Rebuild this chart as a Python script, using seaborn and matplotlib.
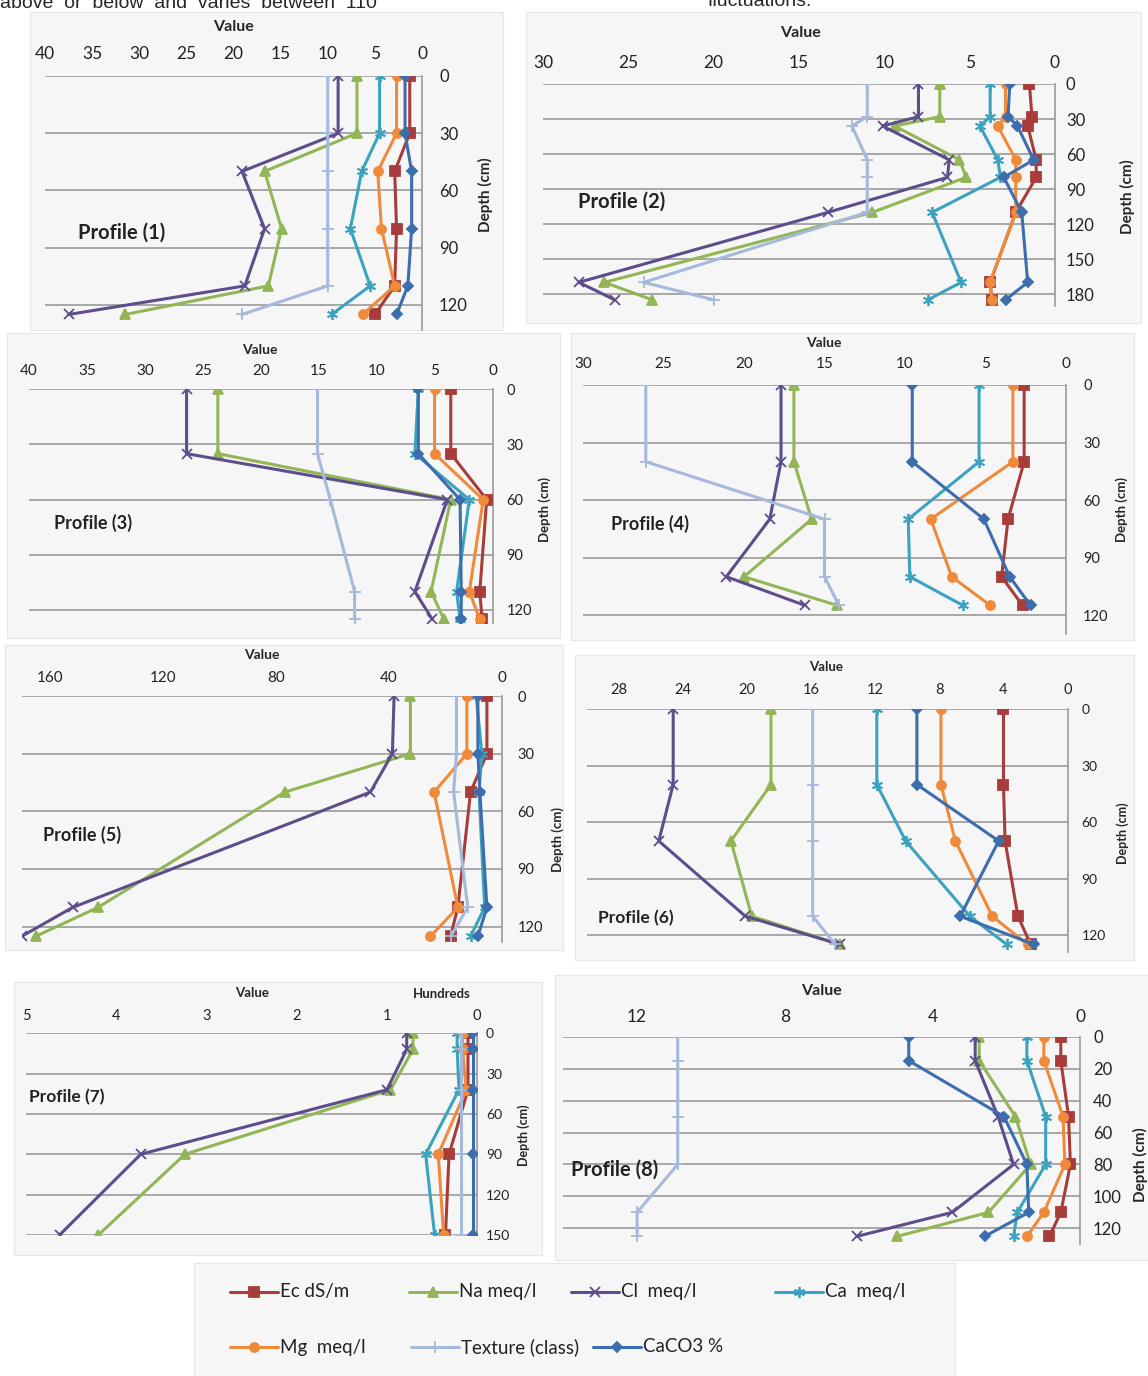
import numpy as np
import matplotlib
matplotlib.use("Agg")
import matplotlib.pyplot as plt
import seaborn as sns
from matplotlib.patches import Rectangle
from matplotlib.lines import Line2D
from matplotlib.ticker import FuncFormatter

# ---- data (value vs depth, one list per parameter) ----
p1_depth = [0, 30, 50, 80, 110, 125]
p1_ec = [1.3, 1.3, 2.9, 2.7, 2.9, 5.0]
p1_na = [6.9, 6.9, 16.7, 14.9, 16.3, 31.5]
p1_cl = [8.9, 8.9, 19.1, 16.7, 18.8, 37.5]
p1_ca = [4.5, 4.5, 6.4, 7.6, 5.5, 9.6]
p1_mg = [2.7, 2.7, 4.7, 4.3, 2.9, 6.3]
p1_tex = [10, 10, 10, 10, 10, 19.1]
p1_caco3 = [1.8, 1.8, 1.1, 1.1, 1.5, 2.7]

p2_depth = [0, 28, 36, 65, 80, 110, 170, 185]
p2_ec = [1.5, 1.35, 1.6, 1.1, 1.1, 2.3, 3.8, 3.7]
p2_na = [6.75, 6.75, 9.4, 5.6, 5.2, 10.7, 26.4, 23.6]
p2_cl = [8.0, 8.0, 10.1, 6.2, 6.3, 13.3, 27.9, 25.8]
p2_ca = [3.8, 3.8, 4.4, 3.35, 3.2, 7.2, 5.5, 7.45]
p2_mg = [2.9, 2.9, 3.35, 2.3, 2.3, 2.3, 3.8, 3.7]
p2_tex = [11.0, 11.0, 11.9, 11.0, 11.0, 11.0, 24.1, 20.0]
p2_caco3 = [2.65, 2.75, 2.2, 1.25, 3.0, 1.95, 1.6, 2.9]

p3_depth = [0, 35, 60, 110, 125]
p3_ec = [3.6, 3.6, 0.5, 1.1, 0.9]
p3_na = [23.7, 23.7, 3.6, 5.3, 4.2]
p3_cl = [26.4, 26.4, 3.9, 6.7, 5.2]
p3_ca = [6.4, 6.7, 2.0, 3.1, 2.8]
p3_mg = [5.0, 5.0, 0.8, 2.0, 1.1]
p3_tex = [15.1, 15.1, 14.0, 11.9, 11.9]
p3_caco3 = [6.4, 6.4, 2.8, 2.7, 2.7]

p4_depth = [0, 40, 70, 100, 115]
p4_ec = [2.6, 2.6, 3.6, 4.0, 2.7]
p4_na = [16.9, 16.9, 15.8, 20.0, 14.2]
p4_cl = [17.7, 17.7, 18.4, 21.1, 16.2]
p4_ca = [5.4, 5.4, 9.8, 9.7, 6.4]
p4_mg = [3.3, 3.3, 8.4, 7.1, 4.7]
p4_tex = [26.1, 26.1, 15.0, 15.0, 14.1]
p4_caco3 = [9.55, 9.55, 5.1, 3.5, 2.2]

p5_depth = [0, 30, 50, 110, 125]
p5_ec = [5.2, 5.2, 11.0, 15.5, 18.1]
p5_na = [32.3, 32.3, 76.8, 143.0, 165.0]
p5_cl = [38.1, 38.7, 46.5, 152.0, 170.0]
p5_ca = [9.0, 7.0, 8.0, 6.0, 11.0]
p5_mg = [12.3, 12.3, 23.9, 15.5, 25.2]
p5_tex = [16.0, 16.0, 17.0, 12.0, 18.0]
p5_caco3 = [8.4, 8.4, 7.7, 5.2, 8.4]

p6_depth = [0, 40, 70, 110, 125]
p6_ec = [4.0, 4.0, 3.9, 3.1, 2.3]
p6_na = [18.5, 18.5, 21.0, 19.7, 14.2]
p6_cl = [24.6, 24.6, 25.5, 20.1, 14.2]
p6_ca = [11.9, 11.9, 10.1, 6.1, 3.8]
p6_mg = [7.9, 7.9, 7.0, 4.7, 2.5]
p6_tex = [15.9, 15.9, 15.9, 15.9, 14.5]
p6_caco3 = [9.4, 9.4, 4.3, 6.7, 2.1]

p7_depth = [0, 12, 42, 90, 150]
p7_ec = [10, 10, 10, 31, 35]
p7_na = [71, 71, 96, 324, 420]
p7_cl = [78, 78, 100, 373, 463]
p7_ca = [22, 22, 20, 57, 47]
p7_mg = [16, 16, 12, 43, 37]
p7_tex = [18, 18, 18, 18, 18]
p7_caco3 = [4, 4, 4, 4, 4]

p8_depth = [0, 15, 50, 80, 110, 125]
p8_ec = [0.52, 0.52, 0.31, 0.26, 0.52, 0.83]
p8_na = [2.73, 2.73, 1.75, 1.34, 2.48, 4.95]
p8_cl = [2.84, 2.84, 2.22, 1.8, 3.46, 6.04]
p8_ca = [1.44, 1.44, 0.93, 0.93, 1.7, 1.8]
p8_mg = [0.98, 0.98, 0.46, 0.41, 0.98, 1.44]
p8_tex = [10.9, 10.9, 10.9, 10.9, 12.0, 12.0]
p8_caco3 = [4.64, 4.64, 2.06, 1.44, 1.39, 2.58]

labels = ["Ec dS/m", "Na meq/l", "Cl  meq/l", "Ca  meq/l",
          "Mg  meq/l", "Texture (class)", "CaCO3 %"]

profiles = [
    (p1_depth, [p1_ec, p1_na, p1_cl, p1_ca, p1_mg, p1_tex, p1_caco3]),
    (p2_depth, [p2_ec, p2_na, p2_cl, p2_ca, p2_mg, p2_tex, p2_caco3]),
    (p3_depth, [p3_ec, p3_na, p3_cl, p3_ca, p3_mg, p3_tex, p3_caco3]),
    (p4_depth, [p4_ec, p4_na, p4_cl, p4_ca, p4_mg, p4_tex, p4_caco3]),
    (p5_depth, [p5_ec, p5_na, p5_cl, p5_ca, p5_mg, p5_tex, p5_caco3]),
    (p6_depth, [p6_ec, p6_na, p6_cl, p6_ca, p6_mg, p6_tex, p6_caco3]),
    (p7_depth, [p7_ec, p7_na, p7_cl, p7_ca, p7_mg, p7_tex, p7_caco3]),
    (p8_depth, [p8_ec, p8_na, p8_cl, p8_ca, p8_mg, p8_tex, p8_caco3]),
]

# ---- styles ----
colors = ["#A83C3A", "#92B655", "#5E4D8C", "#3BA3BF", "#F08A3B", "#A5B9DA", "#3C6DAD"]
markers = ["s", "^", "x", (6, 2, 0), "o", "+", "D"]
msizes = [6.5, 7, 7.5, 8, 6.5, 8, 5]

# ---- layout in reference pixels ----
W, H = 1148, 1376
panels = [
    dict(x0=45, x1=422, yt=76, ys=1.908, ymax=133, xmax=40, xs=5, dys=30,
         bg=(30, 12, 503, 330), fs=12.5, ypad=17, xgap=23,
         val=(233, 27), prof=(122, 233), dep=(485, 195)),
    dict(x0=543, x1=1055, yt=84, ys=1.1667, ymax=190, xmax=30, xs=5, dys=30,
         bg=(526, 12, 1141, 323), fs=12.5, ypad=11, xgap=22,
         val=(800, 33), prof=(622, 202), dep=(1127, 197)),
    dict(x0=29, x1=492.5, yt=389.3, ys=1.839, ymax=127, xmax=40, xs=5, dys=30,
         bg=(7, 333, 560, 638), fs=11, ypad=14, xgap=19,
         val=(260, 350), prof=(93, 523), dep=(545, 510)),
    dict(x0=583, x1=1066, yt=385, ys=1.917, ymax=130, xmax=30, xs=5, dys=30,
         bg=(571, 333, 1134, 640), fs=11, ypad=17, xgap=22,
         val=(824, 343), prof=(650, 524), dep=(1122, 510)),
    dict(x0=21.8, x1=501.6, yt=696, ys=1.922, ymax=128, xmax=170, xs=40, dys=30,
         bg=(5, 645, 563, 950), fs=11, ypad=16, xgap=19,
         val=(262, 655), prof=(82, 835), dep=(558, 840)),
    dict(x0=586.6, x1=1067.6, yt=709.3, ys=1.881, ymax=129, xmax=30, xs=4, dys=30,
         bg=(575, 655, 1134, 960), fs=10.5, ypad=14, xgap=20,
         val=(826, 667), prof=(636, 918), dep=(1123, 833)),
    dict(x0=26.3, x1=477, yt=1033.3, ys=1.344, ymax=150, xmax=500, xs=100, dys=30,
         bg=(14, 982, 542, 1255), fs=10.5, ypad=9, xgap=18,
         val=(252, 993), prof=(67, 1097), dep=(524, 1135)),
    dict(x0=563.3, x1=1080, yt=1036.7, ys=1.597, ymax=130, xmax=14, xs=4, dys=20,
         bg=(555, 975, 1148, 1260), fs=12.5, ypad=13, xgap=20,
         val=(821, 991), prof=(615, 1170), dep=(1140, 1165)),
]

# legend entries: text start x, row y (reference pixels)
legend_pos = [(280, 1292), (459, 1292), (621, 1292), (825, 1292),
              (280, 1347), (461, 1347), (643, 1347)]


def fx(x):
    return x / W


def fy(y):
    return 1 - y / H


sns.set_style("white")
plt.rcParams["font.family"] = ["Lato", "DejaVu Sans"]

fig = plt.figure(figsize=(W / 100, H / 100), dpi=100)

# body text of the page, cut off at the top edge as in the reference
fig.text(fx(0), fy(3), "above  or  below  and  varies  between  110",
         fontsize=14, family=["Liberation Sans"], va="center", ha="left")
fig.text(fx(708), fy(2), "fluctuations.", fontsize=14,
         family=["Liberation Sans"], va="center", ha="left")

for i, (pan, (depth, series)) in enumerate(zip(panels, profiles)):
    bx0, by0, bx1, by1 = pan["bg"]
    fig.patches.append(Rectangle((fx(bx0), fy(by1)), fx(bx1 - bx0), (by1 - by0) / H,
                                 transform=fig.transFigure, facecolor="#f6f6f6",
                                 edgecolor="#e6e6e6", lw=0.8, zorder=-5))
    ybot = pan["yt"] + pan["ymax"] * pan["ys"]
    ax = fig.add_axes([fx(pan["x0"]), fy(ybot), fx(pan["x1"] - pan["x0"]),
                       (ybot - pan["yt"]) / H])
    ax.set_zorder(2)
    ax.set_facecolor("none")

    for k, vals in enumerate(series):
        sns.lineplot(x=vals, y=depth, orient="y", sort=False, estimator=None,
                     color=colors[k], marker=markers[k], markersize=msizes[k],
                     markeredgecolor=colors[k], markeredgewidth=1.3,
                     linewidth=2.2, ax=ax, legend=False, zorder=3 + k)

    ax.set_xlim(pan["xmax"], 0)
    ax.set_ylim(pan["ymax"], 0)
    ax.set_xticks(np.arange(0, pan["xmax"] + 0.001, pan["xs"]))
    ax.set_yticks(np.arange(0, pan["ymax"] + 0.001, pan["dys"]))
    ax.xaxis.tick_top()
    ax.yaxis.tick_right()
    if pan["xmax"] == 500:
        ax.xaxis.set_major_formatter(FuncFormatter(lambda v, p: f"{v / 100:g}"))
    else:
        ax.xaxis.set_major_formatter(FuncFormatter(lambda v, p: f"{v:g}"))
    ax.set_xlabel("")
    ax.set_ylabel("")
    ax.grid(axis="y", color="#9a9a9a", lw=1.2)
    ax.grid(axis="x", visible=False)
    ax.set_axisbelow(True)
    for s in ["top", "left", "bottom"]:
        ax.spines[s].set_visible(False)
    ax.spines["right"].set_color("#9a9a9a")
    ax.spines["right"].set_linewidth(1.2)
    fs = pan["fs"]
    ax.tick_params(axis="x", length=0, labelsize=fs, labelcolor="#222222",
                   pad=max(pan["xgap"] * 0.72 - fs * 0.5, 1))
    ax.tick_params(axis="y", length=0, labelsize=fs - 0.5, labelcolor="#222222",
                   pad=pan["ypad"] * 0.72)

    fig.text(fx(pan["val"][0]), fy(pan["val"][1]), "Value", fontsize=fs - 1,
             fontweight="bold", ha="center", va="center")
    fig.text(fx(pan["prof"][0]), fy(pan["prof"][1]), f"Profile ({i + 1})",
             fontsize=fs + 2, fontweight="bold", ha="center", va="center",
             color="#222222", zorder=10)
    fig.text(fx(pan["dep"][0]), fy(pan["dep"][1]), "Depth (cm)", fontsize=fs - 1.5,
             fontweight="bold", rotation=90, ha="center", va="center")
    if pan["xmax"] == 500:
        fig.text(fx(442), fy(994), "Hundreds", fontsize=fs - 1, fontweight="bold",
                 ha="center", va="center")

# legend panel, entries laid out in Excel's row order
fig.patches.append(Rectangle((fx(194), fy(1376)), fx(955 - 194), (1376 - 1263) / H,
                             transform=fig.transFigure, facecolor="#f6f6f6",
                             edgecolor="#e6e6e6", lw=0.8, zorder=-5))
for k, (tx, ty) in enumerate(legend_pos):
    fig.add_artist(Line2D([fx(tx - 50), fx(tx - 2)], [fy(ty), fy(ty)],
                          transform=fig.transFigure, color=colors[k], lw=2.2))
    fig.add_artist(Line2D([fx(tx - 26)], [fy(ty)], transform=fig.transFigure,
                          color=colors[k], marker=markers[k], markersize=msizes[k],
                          markeredgecolor=colors[k], markeredgewidth=1.3, lw=0))
    fig.text(fx(tx), fy(ty), labels[k], fontsize=13.5, color="#222222",
             ha="left", va="center")

fig.savefig("out.png", dpi=100)
